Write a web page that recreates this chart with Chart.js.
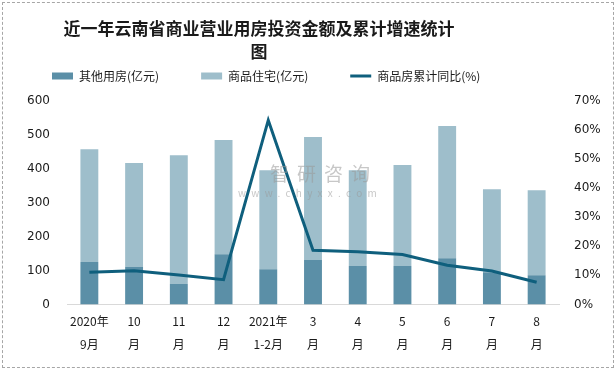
<!DOCTYPE html>
<html>
<head>
<meta charset="utf-8">
<script src="https://cdn.jsdelivr.net/npm/chart.js@4"></script>
<style>
  body { margin: 0; background: #fff; }
  #wrap { position: absolute; left: 2px; top: 2px; width: 610px; height: 364px; border: 1px dashed #a6a6a6; }
  #title { position: absolute; left: 0; top: 16px; width: 518px; text-align: center;
           font: bold 17px/23px "Noto Sans CJK SC", sans-serif; color: #1a1a1a; }
  #mark { position: absolute; left: 238px; top: 162px; width: 145px; color: #9a9a9a; opacity: 0.55;
          font-family: "Noto Sans CJK SC", sans-serif; pointer-events: none; }
  #mark .big { font-size: 19px; line-height: 22px; letter-spacing: 8px; padding-left: 32px; }
  #mark .small { font-size: 10px; line-height: 14px; letter-spacing: 5.3px; margin-top: 2px; }
  canvas { position: absolute; left: 0; top: 0; }
</style>
</head>
<body>
<div id="wrap"></div>
<canvas id="chart" width="616" height="370"></canvas>
<div id="title">近一年云南省商业营业用房投资金额及累计增速统计<br>图</div>
<div id="mark"><div class="big">智研咨询</div><div class="small">www.chyxx.com</div></div>
<script>
const months = [['2020年','9月'],['10','月'],['11','月'],['12','月'],['2021年','1-2月'],['3','月'],['4','月'],['5','月'],['6','月'],['7','月'],['8','月']]
const otherHousing = [125, 110, 60, 148, 104, 131, 113, 113, 136, 95, 86]
const residential = [333, 307, 380, 337, 292, 363, 283, 298, 390, 245, 251]
const growthRate = [11.1, 11.6, 10.1, 8.5, 63.4, 18.6, 18.1, 17.2, 13.5, 11.5, 7.6]

const numFont = { family: '"DejaVu Sans", sans-serif', size: 12 }
const cjkFont = { family: '"Noto Sans CJK SC", "DejaVu Sans", sans-serif', size: 12 }

// extra room under the legend row
const legendSpace = {
    id: 'legendSpace',
    afterInit(chart) {
        const lg = chart.legend
        const fit = lg.fit
        lg.fit = function () { fit.call(this); this.height += 9 }
    }
}

const ctx = document.getElementById('chart').getContext('2d')
new Chart(ctx, {
    data: {
        labels: months,
        datasets: [
            {
                type: 'line',
                label: '商品房累计同比(%)',
                data: growthRate,
                yAxisID: 'y1',
                borderColor: '#0f5f7d',
                backgroundColor: '#0f5f7d',
                borderWidth: 3,
                pointRadius: 0,
                tension: 0,
                order: 0
            },
            {
                type: 'bar',
                label: '其他用房(亿元)',
                data: otherHousing,
                yAxisID: 'y',
                backgroundColor: '#5b8fa7',
                barPercentage: 0.4,
                categoryPercentage: 1,
                order: 1
            },
            {
                type: 'bar',
                label: '商品住宅(亿元)',
                data: residential,
                yAxisID: 'y',
                backgroundColor: '#9ebecb',
                barPercentage: 0.4,
                categoryPercentage: 1,
                order: 2
            }
        ]
    },
    plugins: [legendSpace],
    options: {
        responsive: false,
        animation: false,
        layout: { padding: { left: 10, right: 15, top: 28, bottom: 8 } },
        plugins: {
            title: { display: false },
            legend: {
                position: 'top',
                align: 'start',
                labels: {
                    color: '#1a1a1a',
                    font: { family: '"Noto Sans CJK SC", sans-serif', size: 12 },
                    usePointStyle: true,
                    pointStyleWidth: 21,
                    boxHeight: 7,
                    padding: 42,
                    generateLabels: chart => {
                        const ds = chart.data.datasets
                        return [1, 2, 0].map(i => ({
                            text: ds[i].label,
                            fillStyle: ds[i].type === 'line' ? ds[i].borderColor : ds[i].backgroundColor,
                            strokeStyle: ds[i].type === 'line' ? ds[i].borderColor : ds[i].backgroundColor,
                            lineWidth: ds[i].type === 'line' ? 3 : 0,
                            pointStyle: ds[i].type === 'line' ? 'line' : 'rect',
                            fontColor: '#1a1a1a',
                            datasetIndex: i,
                            hidden: false
                        }))
                    }
                }
            },
            tooltip: { enabled: false }
        },
        scales: {
            x: {
                stacked: true,
                grid: { display: false, drawTicks: false },
                border: { display: true, color: '#d9d9d9', width: 1 },
                ticks: { color: '#1a1a1a', font: { ...cjkFont, lineHeight: 1.9 }, maxRotation: 0, autoSkip: false, padding: 6 }
            },
            y: {
                stacked: true,
                position: 'left',
                min: 0,
                max: 600,
                afterFit: axis => { axis.width = 57 },
                ticks: { stepSize: 100, color: '#1a1a1a', font: numFont, padding: 17 },
                grid: { display: false, drawTicks: false },
                border: { display: false }
            },
            y1: {
                position: 'right',
                min: 0,
                max: 70,
                afterFit: axis => { axis.width = 42 },
                ticks: { stepSize: 10, color: '#1a1a1a', font: numFont, padding: 15, callback: v => v + '%' },
                grid: { display: false, drawTicks: false },
                border: { display: false }
            }
        }
    }
})
</script>
</body>
</html>
